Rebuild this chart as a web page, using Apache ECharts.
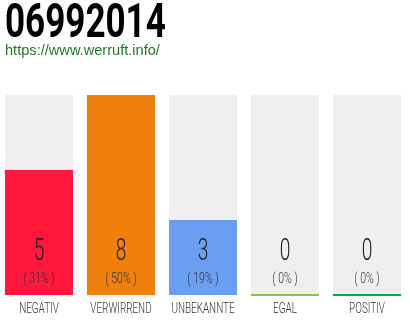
<!DOCTYPE html>
<html><head><meta charset="utf-8">
<script src="https://cdn.jsdelivr.net/npm/echarts@6/dist/echarts.min.js"></script>
<style>html,body{margin:0;padding:0;background:#fff}#c{width:410px;height:320px}</style>
</head><body><div id="c"></div>
<script>
const title = '06992014';
const subtitle = 'https://www.werruft.info/';
const categories = ['NEGATIV', 'VERWIRREND', 'UNBEKANNTE', 'EGAL', 'POSITIV'];
const values = [5, 8, 3, 0, 0];
const percents = ['31%', '50%', '19%', '0%', '0%'];
const colors = ['#ff173d', '#f07f0b', '#6a9ef0', '#7ac943', '#00b33c'];
const maxValue = 8;

const font = 'Roboto, "Liberation Sans", sans-serif';
const chart = echarts.init(document.getElementById('c'), null, {renderer: 'canvas'});
chart.setOption({
  animation: false,
  title: [
    {text: subtitle, left: 0, top: 38, textStyle: {fontFamily: '"Liberation Sans", Arial, sans-serif', fontWeight: 'normal', fontSize: 14.6, color: '#217821'}}
  ],
  graphic: [{
    type: 'text', x: 5, y: 25, scaleX: 0.73,
    style: {text: title, fontFamily: font, fontWeight: 'bold', fontSize: 48, fill: '#000', align: 'left', verticalAlign: 'middle'}
  }],
  grid: {left: -2, right: 2, top: 95, bottom: 25, outerBoundsMode: 'none'},
  xAxis: {type: 'category', data: categories, axisLine: {show: false}, axisTick: {show: false}, axisLabel: {show: false}},
  yAxis: {type: 'value', min: 0, max: maxValue, show: false},
  series: [{
    type: 'bar', barWidth: 68, z: 2,
    showBackground: true, backgroundStyle: {color: '#efefef'},
    data: values.map((v, i) => ({value: v, itemStyle: {color: colors[i], borderColor: colors[i], borderWidth: v === 0 ? 2 : 0}}))
  }, {
    type: 'custom', clip: false, silent: true, z: 10,
    data: values.map((v, i) => [i, v]),
    renderItem: function (params, api) {
      const i = params.dataIndex;
      const base = api.coord([i, 0]);
      return {type: 'group', children: [
        {type: 'text', x: base[0], y: base[1] - 43, scaleX: 0.6, z2: 100,
          style: {text: String(values[i]), fontFamily: font, fontWeight: 300, fontSize: 32, fill: '#222', align: 'center', verticalAlign: 'middle'}},
        {type: 'text', x: base[0], y: base[1] - 16, scaleX: 0.7, z2: 100,
          style: {text: '( ' + percents[i] + ' )', fontFamily: font, fontWeight: 300, fontSize: 15, fill: '#333', align: 'center', verticalAlign: 'middle'}},
        {type: 'text', x: base[0], y: base[1] + 14, scaleX: 0.66, z2: 100,
          style: {text: categories[i], fontFamily: font, fontWeight: 300, fontSize: 15, fill: '#333', align: 'center', verticalAlign: 'middle'}}
      ]};
    }
  }]
});
</script></body></html>
